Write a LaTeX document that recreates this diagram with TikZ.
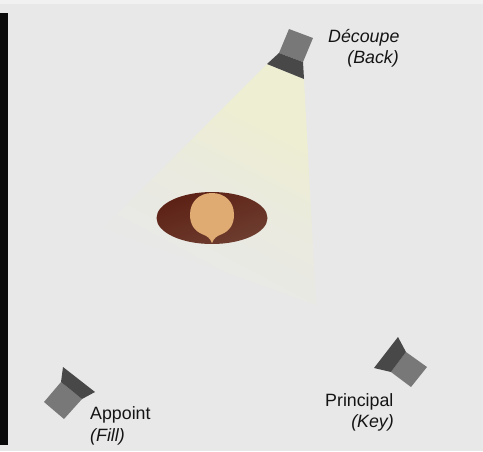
\documentclass[tikz,border=0pt]{standalone}
\usepackage{fontspec}
\setmainfont{Liberation Sans}
\definecolor{bgc}{HTML}{E8E8E8}
\definecolor{topc}{HTML}{F1F1F1}
\definecolor{beamc}{HTML}{EEEED2}
\definecolor{beammid}{HTML}{EAEADF}
\definecolor{bodyc}{HTML}{787878}
\definecolor{doorc}{HTML}{484848}
\definecolor{headc}{HTML}{DFAB72}
\definecolor{darkred}{HTML}{5C2014}
\definecolor{lightred}{HTML}{6E3E30}
\definecolor{textc}{HTML}{141414}
\pgfdeclareverticalshading{beamfade}{100bp}{color(0bp)=(bgc); color(30bp)=(bgc); color(50bp)=(beammid); color(68bp)=(beamc); color(100bp)=(beamc)}
\tikzset{
  lampbody/.style={fill=bodyc},
  lampdoor/.style={fill=doorc},
  lbl/.style={font=\fontsize{17.8pt}{20pt}\selectfont, text=textc, inner sep=0pt},
  lblit/.style={lbl, font=\fontsize{17.8pt}{20pt}\selectfont\itshape},
}
\begin{document}
\begin{tikzpicture}[x=1pt,y=-1pt]
\useasboundingbox (0,0) rectangle (483,451);
\fill[bgc] (0,0) rectangle (483,451);
\fill[topc] (0,0) rectangle (483,4);
\fill[black!96] (0,13) rectangle (8,445);
% beam
\path[shading=beamfade, shading angle=-28] (267,64) -- (304,79) -- (316,305) -- (103,228) -- cycle;
% subject
\shade[shading=axis, left color=darkred, right color=lightred, shading angle=20] (212,218) ellipse [x radius=55.5, y radius=26];
\fill[headc] (212,243) .. controls (210,238) and (207,236) .. (203,234.5)
  .. controls (194,231) and (190,224) .. (190,214.5)
  .. controls (190,202) and (199,193) .. (212,193)
  .. controls (225,193) and (234,202) .. (234,214.5)
  .. controls (234,224) and (230,231) .. (221,234.5)
  .. controls (217,236) and (214,238) .. (212,243) -- cycle;
% back lamp
\fill[lampbody] (289,29) -- (313,38) -- (303,62) -- (279,53) -- cycle;
\fill[lampdoor] (279,53) -- (303,62) -- (304,79) -- (267,64) -- cycle;
% fill lamp
\fill[lampbody] (61,382) -- (82,399) -- (64,419) -- (44,402) -- cycle;
\fill[lampdoor] (63,367) -- (95,392) -- (82,399) -- (61,382) -- cycle;
% key lamp
\fill[lampbody] (406,352) -- (427,367) -- (411,387) -- (391,372) -- cycle;
\fill[lampdoor] (398,337) -- (406,352) -- (391,372) -- (374,368) -- cycle;
% labels
\node[lblit, anchor=base west] (decoupe) at (328,42) {Découpe};
\node[lblit, anchor=base east] (back) at (399,63) {(Back)};
\node[lbl, anchor=base west] (appoint) at (90,419) {Appoint};
\node[lblit, anchor=base west] (fillname) at (90,441) {(Fill)};
\node[lbl, anchor=base west] (principal) at (325,406) {Principal};
\node[lblit, anchor=base east] (keyname) at (394,427) {(Key)};
\end{tikzpicture}
\end{document}
